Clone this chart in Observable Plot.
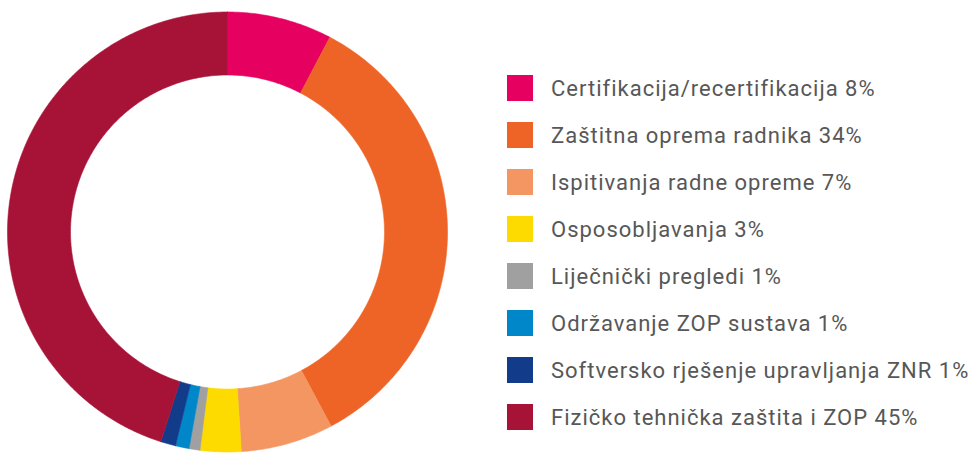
<!DOCTYPE html>
<html>
<head>
<meta charset="utf-8">
<script src="https://cdn.jsdelivr.net/npm/d3@7"></script>
<script src="https://cdn.jsdelivr.net/npm/@observablehq/plot@0.6"></script>
<style>
  html, body { margin: 0; padding: 0; background: #fff; }
  #wrap { position: relative; width: 973px; height: 453px; overflow: hidden; }
  #legend { position: absolute; left: 507px; top: 75px; font-family: Roboto, "Noto Sans", sans-serif; font-size: 22px; letter-spacing: 1px; color: #575757; }
  .row { display: flex; align-items: center; height: 26px; margin-bottom: 21px; white-space: nowrap; }
  .sw { width: 26px; height: 26px; margin-right: 18px; flex: none; }
</style>
</head>
<body>
<div id="wrap"></div>
<script>
const categories = [
  "Certifikacija/recertifikacija",
  "Zaštitna oprema radnika",
  "Ispitivanja radne opreme",
  "Osposobljavanja",
  "Liječnički pregledi",
  "Održavanje ZOP sustava",
  "Softversko rješenje upravljanja ZNR",
  "Fizičko tehnička zaštita i ZOP"
];
const shareLabels = ["8%", "34%", "7%", "3%", "1%", "1%", "1%", "45%"];
const values = [7.7, 34.5, 6.8, 3.0, 0.8, 1.0, 1.1, 45.1];
const colors = ["#E6005F", "#EE6427", "#F39662", "#FDDB00", "#A0A0A0", "#0087C9", "#123B89", "#A71237"];

const innerRatio = 157 / 220;
const total = d3.sum(values);

// Build slice outlines in polar coordinates (angle clockwise from top)
const rows = [];
let acc = 0;
categories.forEach((cat, i) => {
  const a0 = acc / total * 2 * Math.PI;
  acc += values[i];
  const a1 = acc / total * 2 * Math.PI;
  const n = Math.max(4, Math.ceil((a1 - a0) / (Math.PI / 360)));
  for (let k = 0; k <= n; k++) {
    const a = a0 + (a1 - a0) * k / n;
    rows.push({cat, x: Math.sin(a), y: Math.cos(a)});
  }
  for (let k = n; k >= 0; k--) {
    const a = a0 + (a1 - a0) * k / n;
    rows.push({cat, x: innerRatio * Math.sin(a), y: innerRatio * Math.cos(a)});
  }
  rows.push({cat, x: Math.sin(a0), y: Math.cos(a0)});
});

const chart = Plot.plot({
  width: 973,
  height: 453,
  marginLeft: 7,
  marginRight: 526,
  marginTop: 11.5,
  marginBottom: 1.5,
  x: {domain: [-1, 1], axis: null},
  y: {domain: [-1, 1], axis: null},
  color: {domain: categories, range: colors},
  marks: [
    Plot.line(rows, {x: "x", y: "y", z: "cat", fill: "cat", stroke: "cat", strokeWidth: 0.6, curve: "linear"})
  ]
});
document.getElementById("wrap").appendChild(chart);

const legend = document.createElement("div");
legend.id = "legend";
categories.forEach((cat, i) => {
  const row = document.createElement("div");
  row.className = "row";
  const sw = document.createElement("div");
  sw.className = "sw";
  sw.style.background = colors[i];
  const t = document.createElement("span");
  t.textContent = cat + " " + shareLabels[i];
  row.appendChild(sw);
  row.appendChild(t);
  legend.appendChild(row);
});
document.getElementById("wrap").appendChild(legend);
</script>
</body>
</html>
